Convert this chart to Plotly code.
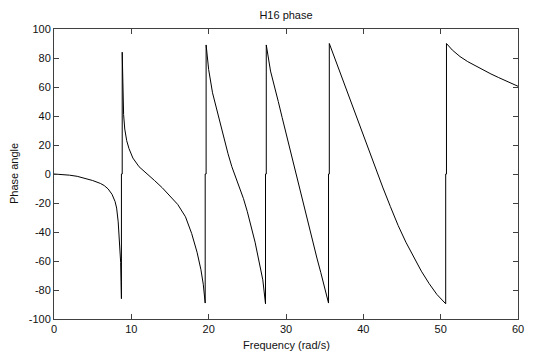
import plotly.graph_objects as go

# --- data ---
# segment 1: low-frequency branch up to the first resonance
f1 = [0, 1, 2, 3, 4, 5, 6, 6.5, 7, 7.5, 7.9, 8.1, 8.3, 8.45, 8.55, 8.62, 8.67, 8.72, 8.72, 8.82]
p1 = [0, -0.3, -0.8, -1.6, -2.8, -4.5, -6.5, -8, -10.3, -14, -19, -23.5, -33, -44, -52, -61, -74, -86, 0, 0]

f2 = [8.82, 8.86, 8.92, 9.0, 9.15, 9.4, 9.7, 10.2, 11, 12, 13, 14, 15, 16, 17, 17.8, 18.5, 19.0, 19.3, 19.55, 19.55, 19.67]
p2 = [84, 68, 52, 41, 31, 23, 17.5, 11, 5, 0.5, -4.5, -9.5, -15, -21, -29.5, -41, -54, -66, -76, -89, 0, 0]

f3 = [19.67, 20.0, 20.5, 21, 21.5, 22, 22.5, 23, 23.5, 24, 24.5, 25, 25.5, 26, 26.5, 27, 27.35, 27.35, 27.45]
p3 = [89, 72, 56, 45, 34, 23, 14, 5, -2.5, -9, -17, -26, -36, -47, -60, -73, -89.5, 0, 0]

f4 = [27.45, 28, 28.5, 29, 29.5, 30, 30.5, 31, 31.5, 32, 32.5, 33, 33.5, 34, 34.5, 35, 35.5, 35.5, 35.6]
p4 = [89, 71, 61, 50, 39, 28, 17, 6, -5, -16, -26, -37, -47, -58, -68, -78, -89, 0, 0]

f5 = [35.6, 36.5, 37.5, 38.5, 39.5, 40.5, 41.5, 42.5, 43.5, 44.5, 45.5, 46.5, 47.5, 48.5, 49.5, 50.65, 50.65, 50.75]
p5 = [90, 77, 62.5, 48, 34, 19.5, 5, -9, -22.5, -35.5, -47, -57.5, -67, -75.5, -83, -89.5, 0, 0]

f6 = [50.75, 51.5, 52.5, 53.5, 54.5, 55.5, 56.5, 57.5, 58.5, 59.3, 60]
p6 = [90, 85.5, 81, 77.5, 74.5, 71.5, 69, 66.5, 64, 62, 60.5]

freq = f1 + f2 + f3 + f4 + f5 + f6
phase = p1 + p2 + p3 + p4 + p5 + p6

x_ticks = [0, 10, 20, 30, 40, 50, 60]
x_labels = ["0", "10", "20", "30", "40", "50", "60"]
y_ticks = [-100, -80, -60, -40, -20, 0, 20, 40, 60, 80, 100]
y_labels = ["-100", "-80", "-60", "-40", "-20", "0", "20", "40", "60", "80", "100"]

font = dict(family="Liberation Sans, Arial, sans-serif", size=11, color="#111")

W, H = 546, 353
L, R, T, B = 54, 28, 29, 34
plot_w = W - L - R
plot_h = H - T - B

fig = go.Figure(
    go.Scatter(x=freq, y=phase, mode="lines",
               line=dict(color="#000000", width=1), showlegend=False)
)

axis_common = dict(
    showline=True, linecolor="#404040", linewidth=1, mirror="ticks",
    ticks="inside", ticklen=5, tickcolor="#404040", tickwidth=1,
    showgrid=False, zeroline=False, tickfont=font, automargin=False,
)

fig.update_xaxes(range=[0, 60], tickvals=x_ticks, ticktext=x_labels, **axis_common)
fig.update_yaxes(range=[-100, 100], tickvals=y_ticks, ticktext=y_labels, **axis_common)

fig.add_annotation(text="Phase angle", textangle=-90, font=font,
                   xref="paper", yref="paper", x=(14 - L) / plot_w, y=0.5,
                   xanchor="center", yanchor="middle", showarrow=False)
fig.add_annotation(text="Frequency (rad/s)", font=font,
                   xref="paper", yref="paper", x=0.5, y=-(345 - (H - B)) / plot_h,
                   xanchor="center", yanchor="middle", showarrow=False)

fig.update_layout(
    width=W, height=H,
    margin=dict(l=L, r=R, t=T, b=B),
    paper_bgcolor="white", plot_bgcolor="white",
    title=dict(text="H16 phase", x=0.5, xref="paper", xanchor="center",
               y=1 - 15.5 / H, yanchor="middle", font=font),
    font=font,
)

fig.write_html("out.html",
               config={"displayModeBar": False, "staticPlot": True},
               post_script="document.body.style.margin='0';document.body.style.overflow='hidden';")
